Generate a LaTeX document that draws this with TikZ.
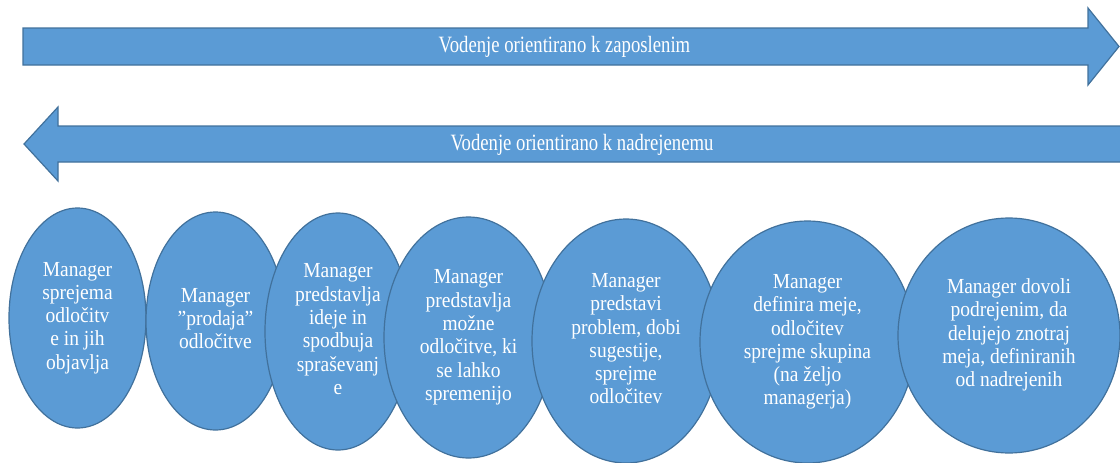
\documentclass[tikz,border=0pt]{standalone}
\usepackage{fontspec}
\setmainfont{Liberation Serif}
\usetikzlibrary{shapes.geometric}
\definecolor{boxfill}{HTML}{5B9BD5}
\definecolor{boxline}{HTML}{41719C}
\newcommand\bubbletext[1]{\scalebox{1}[1.1]{\begin{tabular}{@{}c@{}}#1\end{tabular}}}
\tikzset{
  bluearrow/.style={fill=boxfill, draw=boxline, line width=1.2pt, line join=miter},
  arrowtext/.style={text=white, font=\fontsize{18.7}{22}\selectfont, inner sep=0pt},
  bubble/.style={ellipse, fill=boxfill, draw=boxline, line width=1.2pt, text=white,
    align=center, inner sep=0pt, font=\fontsize{19.5}{21.2}\selectfont},
}
\begin{document}
\begin{tikzpicture}[x=1pt, y=-1pt]
\useasboundingbox (0,0) rectangle (1120,463);
% top arrow (to the right)
\draw[bluearrow] (23,28) -- (1088,28) -- (1088,8) -- (1119,46.5) -- (1088,85) -- (1088,65) -- (23,65) -- cycle;
\node[arrowtext] (t1) at (564.5,46.5) {\scalebox{1}[1.25]{Vodenje orientirano k zaposlenim}};
% bottom arrow (to the left)
\draw[bluearrow] (1124,126) -- (58,126) -- (58,107) -- (24,144) -- (58,181) -- (58,162) -- (1124,162) -- cycle;
\node[arrowtext] (t2) at (582,144.5) {\scalebox{1}[1.25]{Vodenje orientirano k nadrejenemu}};
% ellipses
\node[bubble, minimum width=137pt, minimum height=220pt] (e1) at (77.5,318) {\bubbletext{Manager\\sprejema\\odločitv\\e in jih\\objavlja}};
\node[bubble, minimum width=139pt, minimum height=218pt] (e2) at (215.5,321) {\bubbletext{Manager\\{\char34}prodaja{\char34}\\odločitve}};
\node[bubble, minimum width=146pt, minimum height=237pt] (e3) at (338,331.5) {\bubbletext{Manager\\predstavlja\\ideje in\\spodbuja\\spraševanj\\e}};
\node[bubble, minimum width=169pt, minimum height=241pt] (e4) at (468.5,337.5) {\bubbletext{Manager\\predstavlja\\možne\\odločitve, ki\\se lahko\\spremenijo}};
\node[bubble, minimum width=188pt, minimum height=244pt] (e5) at (626,341) {\bubbletext{Manager\\predstavi\\problem, dobi\\sugestije,\\sprejme\\odločitev}};
\node[bubble, minimum width=215pt, minimum height=242pt] (e6) at (807.5,342) {\bubbletext{Manager\\definira meje,\\odločitev\\sprejme skupina\\(na željo\\managerja)}};
\node[bubble, minimum width=222pt, minimum height=235pt] (e7) at (1009,335.5) {\bubbletext{Manager dovoli\\podrejenim, da\\delujejo znotraj\\meja, definiranih\\od nadrejenih}};
\end{tikzpicture}
\end{document}
